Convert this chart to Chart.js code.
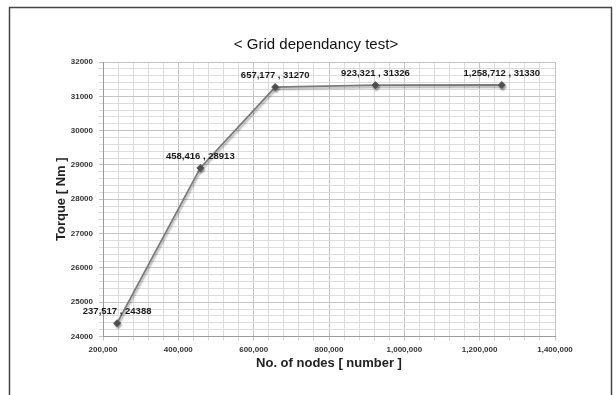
<!DOCTYPE html>
<html>
<head>
<meta charset="utf-8">
<script src="https://cdn.jsdelivr.net/npm/chart.js@4/dist/chart.umd.min.js"></script>
<style>
  html, body { margin: 0; padding: 0; background: #fff; }
  #wrap { position: relative; width: 616px; height: 395px; }
</style>
</head>
<body>
<div id="wrap"><canvas id="c" width="616" height="395"></canvas></div>
<script>
// Mesh sizes (number of nodes) and resulting torque [Nm]
const nodes  = [237517, 458416, 657177, 923321, 1258712];
const torque = [24388, 28913, 31270, 31326, 31330];

const chartTitle = '< Grid dependancy test>';
const xTitle = 'No. of nodes [ number ]';
const yTitle = 'Torque [ Nm ]';

const xMin = 200000, xMax = 1400000, xMinor = 40000, xMajor = 200000;
const yMin = 24000, yMax = 32000, yMinor = 200, yMajor = 1000;

const points = nodes.map((n, i) => ({ x: n, y: torque[i] }));

// Frame around the whole chart and the centred heading
const framePlugin = {
  id: 'frame',
  beforeDraw(chart) {
    const ctx = chart.ctx;
    ctx.save();
    ctx.strokeStyle = '#444';
    ctx.lineWidth = 1.5;
    ctx.strokeRect(9.5, 7.5, 602, 420);
    ctx.fillStyle = '#111';
    ctx.font = '15px "Liberation Sans", Arial, sans-serif';
    ctx.textAlign = 'center';
    ctx.textBaseline = 'middle';
    ctx.fillText(chartTitle, 316, 45);
    ctx.restore();
  }
};

// Soft drop shadow under the line
const shadowPlugin = {
  id: 'lineShadow',
  beforeDatasetDraw(chart) {
    const ctx = chart.ctx;
    ctx.save();
    ctx.shadowColor = 'rgba(0,0,0,0.35)';
    ctx.shadowBlur = 2;
    ctx.shadowOffsetX = 1;
    ctx.shadowOffsetY = 2;
  },
  afterDatasetDraw(chart) {
    chart.ctx.restore();
  }
};

// "nodes , torque" label above each point
const labelPlugin = {
  id: 'pointLabels',
  afterDatasetsDraw(chart) {
    const ctx = chart.ctx;
    const meta = chart.getDatasetMeta(0);
    ctx.save();
    ctx.fillStyle = '#1a1a1a';
    ctx.font = 'bold 9.5px "Liberation Sans", Arial, sans-serif';
    ctx.textAlign = 'center';
    ctx.textBaseline = 'middle';
    meta.data.forEach((el, i) => {
      const txt = nodes[i].toLocaleString('en-US') + ' , ' + torque[i];
      ctx.fillText(txt, el.x, el.y - 12);
    });
    ctx.restore();
  }
};

new Chart(document.getElementById('c'), {
  type: 'line',
  data: {
    datasets: [{
      data: points,
      borderColor: '#7a7a7a',
      borderWidth: 1.8,
      pointStyle: 'rectRot',
      pointRadius: 3.5,
      pointBackgroundColor: '#555',
      pointBorderColor: '#555',
      pointBorderWidth: 1,
      tension: 0,
      fill: false
    }]
  },
  options: {
    responsive: false,
    animation: false,
    events: [],
    layout: { padding: { top: 62, right: 61, bottom: 0, left: 0 } },
    plugins: {
      legend: { display: false },
      title: { display: false },
      tooltip: { enabled: false }
    },
    scales: {
      x: {
        type: 'linear',
        min: xMin,
        max: xMax,
        afterFit(scale) { scale.height = 58.5; },
        border: { color: '#9a9a9a', width: 1 },
        grid: {
          color: ctx => (ctx.tick && ctx.tick.value % xMajor === 0) ? '#c4c4c4' : '#dcdcdc',
          tickLength: 4,
          lineWidth: 1
        },
        ticks: {
          stepSize: xMinor,
          autoSkip: false,
          maxRotation: 0,
          padding: 4,
          color: '#333',
          font: { family: '"Liberation Sans", Arial, sans-serif', size: 8, weight: 'bold' },
          callback: v => (v % xMajor === 0) ? v.toLocaleString('en-US') : ''
        },
        title: {
          display: true,
          text: xTitle,
          color: '#222',
          font: { family: '"Liberation Sans", Arial, sans-serif', size: 13, weight: 'bold' },
          padding: { top: 0, bottom: 24 }
        }
      },
      y: {
        type: 'linear',
        min: yMin,
        max: yMax,
        afterFit(scale) { scale.width = 103; },
        border: { color: '#9a9a9a', width: 1 },
        grid: {
          color: ctx => (ctx.tick && ctx.tick.value % yMajor === 0) ? '#c4c4c4' : '#dcdcdc',
          tickLength: 4,
          lineWidth: 1
        },
        ticks: {
          stepSize: yMinor,
          autoSkip: false,
          padding: 6,
          color: '#333',
          font: { family: '"Liberation Sans", Arial, sans-serif', size: 8, weight: 'bold' },
          callback: v => (v % yMajor === 0) ? String(v) : ''
        },
        title: {
          display: true,
          text: yTitle,
          color: '#222',
          font: { family: '"Liberation Sans", Arial, sans-serif', size: 13, weight: 'bold' },
          padding: { top: 54, bottom: 0 }
        }
      }
    }
  },
  plugins: [framePlugin, shadowPlugin, labelPlugin]
});
</script>
</body>
</html>
